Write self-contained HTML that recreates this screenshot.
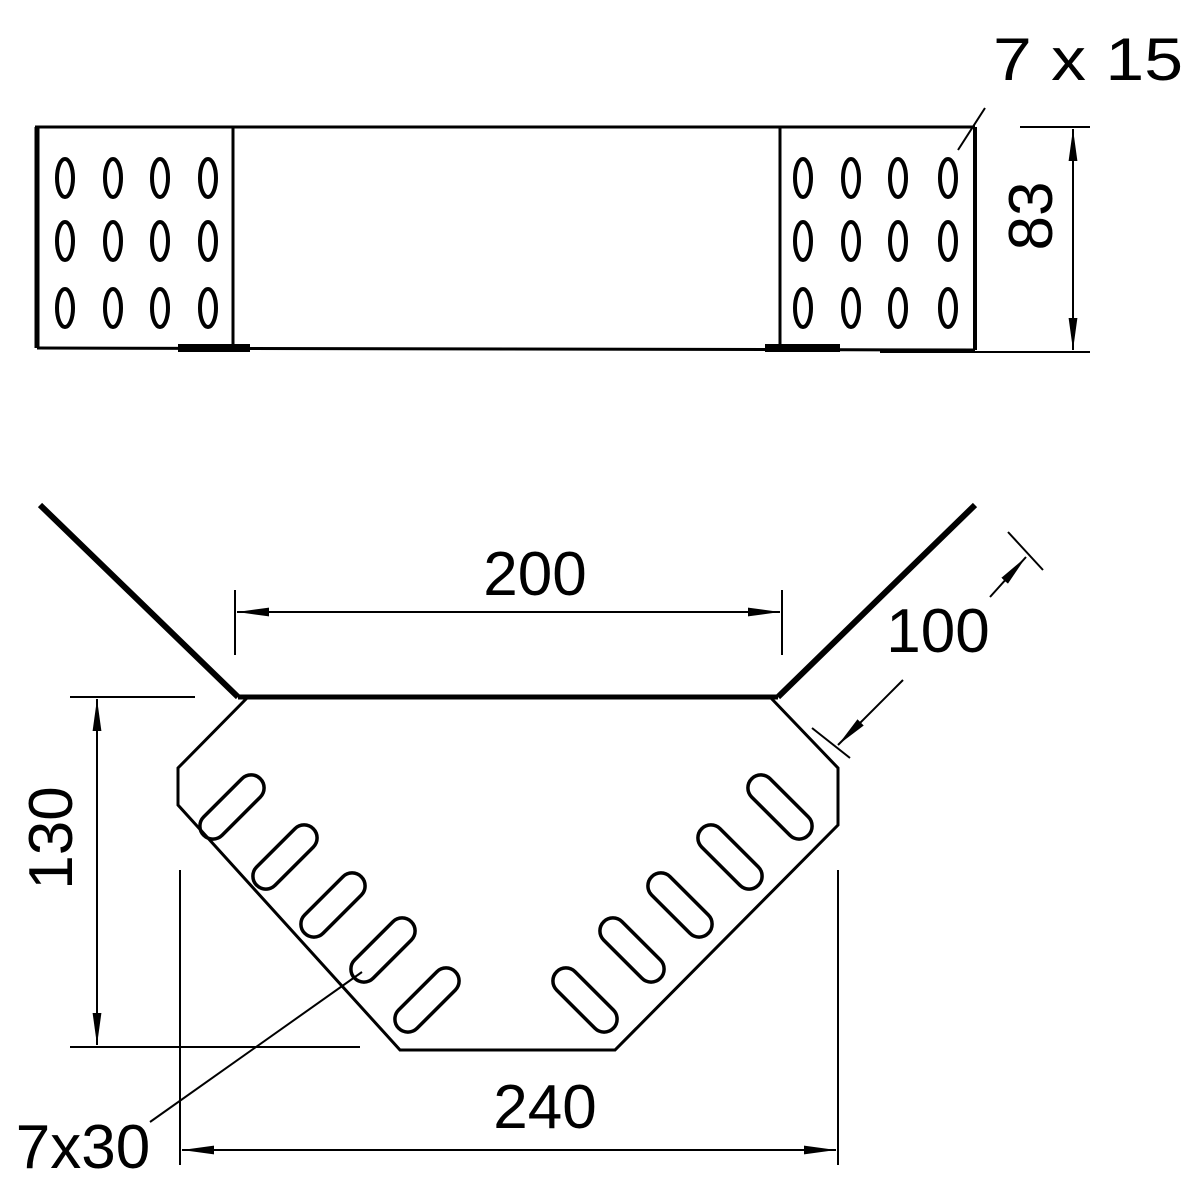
<!DOCTYPE html>
<html><head><style>body{margin:0;background:#fff}svg{display:block}</style></head><body>
<svg width="1200" height="1200" viewBox="0 0 1200 1200" xmlns="http://www.w3.org/2000/svg" font-family="Liberation Sans, sans-serif" fill="none" stroke="#000">
<defs>
<marker id="a" viewBox="0 0 10 10" preserveAspectRatio="none" refX="10" refY="5" markerWidth="32" markerHeight="11" orient="auto-start-reverse" markerUnits="userSpaceOnUse"><path d="M0 1 L10 5 L0 9Z" fill="#000" stroke="none"/></marker>
</defs>
<g stroke-width="3">
<line x1="35" y1="127" x2="975" y2="127"/>
<line x1="37" y1="127" x2="37" y2="348" stroke-width="5"/>
<line x1="37" y1="348" x2="975" y2="350"/>
<line x1="233" y1="127" x2="233" y2="348"/>
<line x1="780" y1="127" x2="780" y2="350"/>
<line x1="975" y1="127" x2="975" y2="350" stroke-width="4"/>
</g>
<rect x="178" y="344" width="72" height="8" fill="#000" stroke="none"/>
<rect x="765" y="344" width="75" height="8" fill="#000" stroke="none"/>
<g stroke-width="4">
<ellipse cx="65" cy="178" rx="8" ry="19"/><ellipse cx="113" cy="178" rx="8" ry="19"/><ellipse cx="160" cy="178" rx="8" ry="19"/><ellipse cx="208" cy="178" rx="8" ry="19"/>
<ellipse cx="65" cy="241" rx="8" ry="19"/><ellipse cx="113" cy="241" rx="8" ry="19"/><ellipse cx="160" cy="241" rx="8" ry="19"/><ellipse cx="208" cy="241" rx="8" ry="19"/>
<ellipse cx="65" cy="308" rx="8" ry="19"/><ellipse cx="113" cy="308" rx="8" ry="19"/><ellipse cx="160" cy="308" rx="8" ry="19"/><ellipse cx="208" cy="308" rx="8" ry="19"/>
<ellipse cx="803" cy="178" rx="8" ry="19"/><ellipse cx="851" cy="178" rx="8" ry="19"/><ellipse cx="898" cy="178" rx="8" ry="19"/><ellipse cx="948" cy="178" rx="8" ry="19"/>
<ellipse cx="803" cy="241" rx="8" ry="19"/><ellipse cx="851" cy="241" rx="8" ry="19"/><ellipse cx="898" cy="241" rx="8" ry="19"/><ellipse cx="948" cy="241" rx="8" ry="19"/>
<ellipse cx="803" cy="308" rx="8" ry="19"/><ellipse cx="851" cy="308" rx="8" ry="19"/><ellipse cx="898" cy="308" rx="8" ry="19"/><ellipse cx="948" cy="308" rx="8" ry="19"/>
</g>
<g stroke-width="2">
<line x1="1020" y1="127" x2="1090" y2="127"/>
<line x1="880" y1="352" x2="1090" y2="352"/>
<line x1="1073" y1="129" x2="1073" y2="350" marker-start="url(#a)" marker-end="url(#a)"/>
<line x1="985" y1="108" x2="958" y2="150"/>
</g>
<text x="1088" y="80" font-size="60" fill="#000" stroke="none" text-anchor="middle" textLength="190" lengthAdjust="spacingAndGlyphs">7 x 15</text>
<text transform="translate(1052 216) rotate(-90)" font-size="62" fill="#000" stroke="none" text-anchor="middle">83</text>
<g stroke-width="6">
<line x1="40" y1="505" x2="238" y2="697"/>
<line x1="975" y1="505" x2="778" y2="697"/>
</g>
<line x1="238" y1="697" x2="778" y2="697" stroke-width="5"/>
<polyline points="248,697 178,768 178,805 400,1050 615,1050 838,825 838,768 770,697" stroke-width="3"/>
<g stroke-width="3.5">
<rect x="-40" y="-13" width="80" height="26" rx="13" transform="translate(232 807) rotate(-45)"/>
<rect x="-40" y="-13" width="80" height="26" rx="13" transform="translate(285 857) rotate(-45)"/>
<rect x="-40" y="-13" width="80" height="26" rx="13" transform="translate(333 905) rotate(-45)"/>
<rect x="-40" y="-13" width="80" height="26" rx="13" transform="translate(383 950) rotate(-45)"/>
<rect x="-40" y="-13" width="80" height="26" rx="13" transform="translate(427 1000) rotate(-45)"/>
<rect x="-40" y="-13" width="80" height="26" rx="13" transform="translate(780 807) rotate(45)"/>
<rect x="-40" y="-13" width="80" height="26" rx="13" transform="translate(730 857) rotate(45)"/>
<rect x="-40" y="-13" width="80" height="26" rx="13" transform="translate(680 905) rotate(45)"/>
<rect x="-40" y="-13" width="80" height="26" rx="13" transform="translate(632 950) rotate(45)"/>
<rect x="-40" y="-13" width="80" height="26" rx="13" transform="translate(585 1000) rotate(45)"/>
</g>
<g stroke-width="2">
<line x1="235" y1="590" x2="235" y2="655"/>
<line x1="782" y1="590" x2="782" y2="655"/>
<line x1="237" y1="612" x2="780" y2="612" marker-start="url(#a)" marker-end="url(#a)"/>
<line x1="70" y1="697" x2="195" y2="697"/>
<line x1="70" y1="1047" x2="360" y2="1047"/>
<line x1="97" y1="699" x2="97" y2="1045" marker-start="url(#a)" marker-end="url(#a)"/>
<line x1="180" y1="870" x2="180" y2="1165"/>
<line x1="838" y1="870" x2="838" y2="1165"/>
<line x1="182" y1="1150" x2="836" y2="1150" marker-start="url(#a)" marker-end="url(#a)"/>
<line x1="1008" y1="532" x2="1043" y2="570"/>
<line x1="812" y1="728" x2="850" y2="758"/>
<line x1="990" y1="597" x2="1026" y2="557" marker-end="url(#a)"/>
<line x1="903" y1="680" x2="838" y2="745" marker-end="url(#a)"/>
<line x1="150" y1="1122" x2="362" y2="972"/>
</g>
<g fill="#000" stroke="none" font-size="62">
<text x="535" y="595" text-anchor="middle">200</text>
<text x="938" y="652" text-anchor="middle">100</text>
<text transform="translate(72 838) rotate(-90)" text-anchor="middle">130</text>
<text x="545" y="1128" text-anchor="middle">240</text>
<text x="83" y="1168" text-anchor="middle">7x30</text>
</g>
</svg>
</body></html>
